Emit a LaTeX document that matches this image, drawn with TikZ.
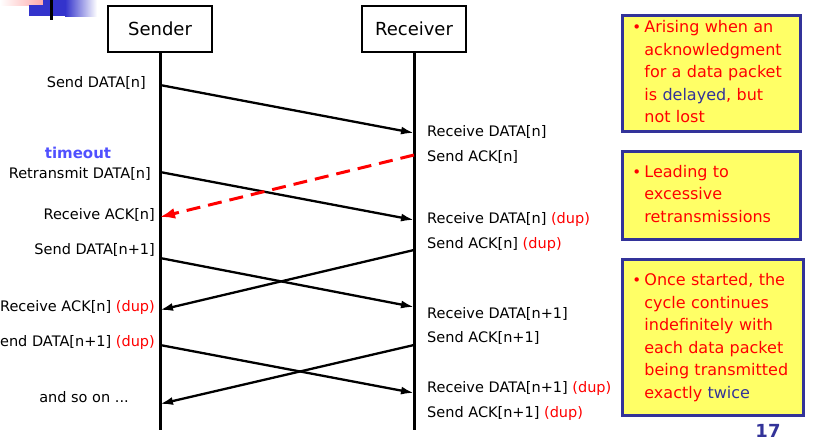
\documentclass[tikz,border=0pt]{standalone}
\usepackage{fontspec}
\setmainfont{DejaVu Sans}
\usetikzlibrary{arrows.meta,positioning}
\definecolor{noteblue}{RGB}{51,51,153}
\definecolor{noteyellow}{RGB}{255,255,102}
\definecolor{timeblue}{RGB}{80,80,255}
\definecolor{slideblue}{RGB}{51,51,204}
\definecolor{slidepink}{RGB}{255,170,170}
\newcommand{\dupmark}{\textcolor{red}{(dup)}}

\begin{document}
\begin{tikzpicture}[x=1pt, y=-1pt,
  actor/.style={draw, line width=2.8pt, minimum width=104pt, minimum height=46pt, inner sep=0pt, font=\fontsize{18}{20}\selectfont},
  lifeline/.style={line width=3pt},
  lbl/.style={inner sep=0pt, font=\fontsize{14.5}{16}\selectfont},
  sndlbl/.style={lbl, anchor=east},
  rcvlbl/.style={lbl, anchor=west},
  note/.style={draw=noteblue, line width=2.8pt, fill=noteyellow, text=red, anchor=north west, inner xsep=10pt, inner ysep=0pt, align=left, font=\fontsize{16}{22.5}\selectfont},
  msg/.style={-{Latex[length=13pt,width=8pt]}, line width=2.3pt},
  lost/.style={-{Latex[length=15pt,width=11pt]}, red, line width=3pt, dash pattern=on 14pt off 8pt},
  >=Latex]
\useasboundingbox (0,0) rectangle (816,442);

% slide decoration
\shade[left color=white, right color=slidepink] (0,0) rectangle (43,5);
\fill[slideblue] (29,5) rectangle (43,16);
\fill[slideblue] (43,0) rectangle (65,16);
\shade[left color=slideblue, right color=white] (65,0) rectangle (97,16);
\draw[line width=3pt] (51,0) -- (51,20);

% actors and lifelines
\node[actor] (sender) at (160,29) {Sender};
\node[actor] (receiver) at (414,29) {Receiver};
\coordinate (sendbot) at (160,430);
\coordinate (recvbot) at (414,430);
\draw[lifeline] (sender) -- (sendbot);
\draw[lifeline] (receiver) -- (recvbot);

% message points
\coordinate (s1) at (160,85);
\coordinate (s2) at (160,172);
\coordinate (s3) at (160,217);
\coordinate (s4) at (160,258);
\coordinate (s5) at (160,310);
\coordinate (s6) at (160,345);
\coordinate (s7) at (160,404);
\coordinate (r1) at (414,133);
\coordinate (r2) at (414,155);
\coordinate (r3) at (414,220);
\coordinate (r4) at (414,250);
\coordinate (r5) at (414,307);
\coordinate (r6) at (414,345);
\coordinate (r7) at (414,393);

\foreach \a/\b in {s1/r1,s2/r3,r4/s5,s4/r5,r6/s7,s6/r7}
  \draw[msg] (\a) -- (\b);
\draw[lost] (r2) -- (s3);

% sender side
\node[sndlbl] (sl1) at (146,83) {Send DATA[n]};
\node[lbl, text=timeblue, font=\fontsize{15}{16}\selectfont\bfseries] (tmo) at (78,153) {timeout};
\node[sndlbl] (sl2) at (151,174) {Retransmit DATA[n]};
\node[sndlbl] (sl3) at (155,215) {Receive ACK[n]};
\node[sndlbl] (sl4) at (155,250) {Send DATA[n+1]};
\node[sndlbl] (sl5) at (155,307) {Receive ACK[n] \dupmark};
\node[sndlbl] (sl6) at (155,342) {Send DATA[n+1] \dupmark};
\node[lbl] (sl7) at (84,397) {and so on ...};

% receiver side
\node[rcvlbl] (rl1) at (427,132) {Receive DATA[n]};
\node[rcvlbl] (rl2) at (427,157) {Send ACK[n]};
\node[rcvlbl] (rl3) at (427,219) {Receive DATA[n] \dupmark};
\node[rcvlbl] (rl4) at (427,244) {Send ACK[n] \dupmark};
\node[rcvlbl] (rl5) at (427,314) {Receive DATA[n+1]};
\node[rcvlbl] (rl6) at (427,338) {Send ACK[n+1]};
\node[rcvlbl] (rl7) at (427,388) {Receive DATA[n+1] \dupmark};
\node[rcvlbl] (rl8) at (427,413) {Send ACK[n+1] \dupmark};

% notes
\node[note, text width=158pt, minimum height=116pt] (note1) at (621,14)
  {\begin{tabular}{@{}p{12pt}@{}l@{}}
   {\fontsize{15}{15}\selectfont\textbullet} & Arising when an\\
   & acknowledgment\\
   & for a data packet\\
   & is \textcolor{noteblue}{delayed}, but\\
   & not lost
   \end{tabular}};
\node[note, text width=158pt, minimum height=88pt] (note2) at (621,150)
  {\begin{tabular}{@{}p{12pt}@{}l@{}}
   {\fontsize{15}{15}\selectfont\textbullet} & Leading to\\
   & excessive\\
   & retransmissions
   \end{tabular}};
\node[note, text width=161pt, minimum height=156pt] (note3) at (621,258)
  {\begin{tabular}{@{}p{12pt}@{}l@{}}
   {\fontsize{15}{15}\selectfont\textbullet} & Once started, the\\
   & cycle continues\\
   & indefinitely with\\
   & each data packet\\
   & being transmitted\\
   & exactly \textcolor{noteblue}{twice}
   \end{tabular}};

\node[text=noteblue, font=\fontsize{18}{20}\selectfont\bfseries, inner sep=0pt] (pgnum) at (768,431) {17};
\end{tikzpicture}
\end{document}
